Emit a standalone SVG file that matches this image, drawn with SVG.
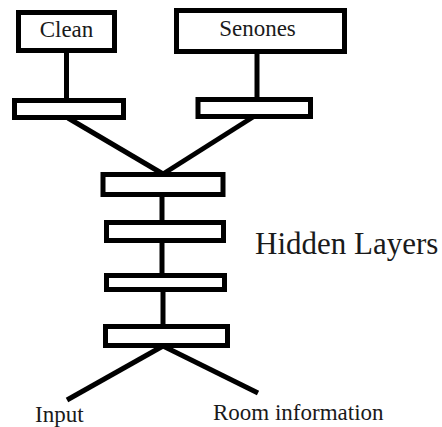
<svg xmlns="http://www.w3.org/2000/svg" width="442" height="427" viewBox="0 0 442 427">
  <style>
    .box { fill: #ffffff; stroke: #000000; stroke-width: 5; }
    .wire { stroke: #000000; stroke-width: 5; fill: none; stroke-linecap: butt; }
    text { font-family: 'Liberation Serif', 'DejaVu Serif', serif; font-size: 23px; fill: #1a1a1a; }
    .big { font-size: 31px; }
  </style>
  <rect width="442" height="427" fill="#ffffff"/>

  <!-- connectors -->
  <g id="connectors">
    <line class="wire" x1="66.5" y1="52" x2="66.5" y2="100"/>
    <line class="wire" x1="257" y1="52" x2="257" y2="99"/>
    <line class="wire" x1="68" y1="118" x2="163" y2="174"/>
    <line class="wire" x1="253" y1="117" x2="163" y2="174"/>
    <line class="wire" x1="162" y1="195" x2="162" y2="222"/>
    <line class="wire" x1="162" y1="241" x2="162" y2="275"/>
    <line class="wire" x1="163" y1="290" x2="163" y2="326"/>
    <line class="wire" x1="163" y1="346" x2="67" y2="400"/>
    <line class="wire" x1="163" y1="346" x2="258" y2="393"/>
  </g>

  <!-- output targets -->
  <g id="clean">
    <rect class="box" x="18.5" y="12.5" width="96" height="38"/>
    <text font-family="Liberation Serif, serif" x="66.5" y="37" text-anchor="middle">Clean</text>
  </g>
  <g id="senones">
    <rect class="box" x="176.5" y="10.5" width="168" height="41"/>
    <text font-family="Liberation Serif, serif" x="257.5" y="36" text-anchor="middle">Senones</text>
  </g>

  <!-- task-specific layers -->
  <g id="clean-layer">
    <rect class="box" x="14.5" y="100.5" width="109" height="17"/>
  </g>
  <g id="senones-layer">
    <rect class="box" x="198" y="99.5" width="112.5" height="17"/>
  </g>

  <!-- shared hidden layers -->
  <g id="hidden-1">
    <rect class="box" x="103" y="174.5" width="120" height="20"/>
  </g>
  <g id="hidden-2">
    <rect class="box" x="106.5" y="222.5" width="117" height="18"/>
  </g>
  <g id="hidden-3">
    <rect class="box" x="106.5" y="275.5" width="118" height="14"/>
  </g>
  <g id="hidden-4">
    <rect class="box" x="105.5" y="326.5" width="122" height="19"/>
  </g>
  <g id="hidden-label">
    <text class="big" x="255" y="254">Hidden Layers</text>
  </g>

  <!-- inputs -->
  <g id="input">
    <text x="35" y="422">Input</text>
  </g>
  <g id="room-information">
    <text x="213" y="420">Room information</text>
  </g>
</svg>
